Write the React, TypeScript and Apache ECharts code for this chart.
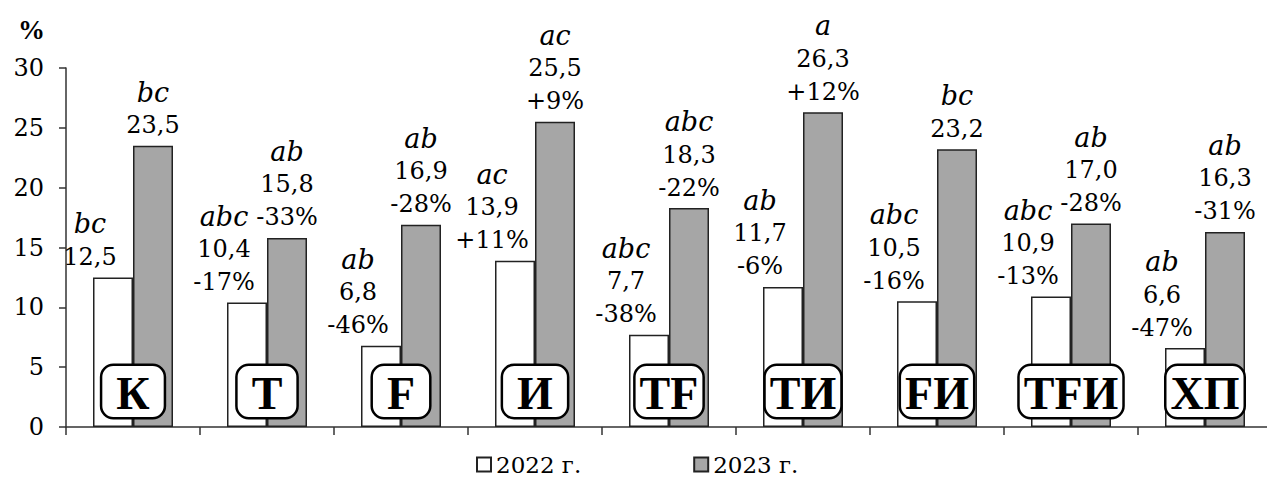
import React, { useEffect, useRef } from "react";
import * as echarts from "echarts";

const categories = ["К", "Т", "F", "И", "TF", "TИ", "FИ", "TFИ", "ХП"];
const values2022 = [12.5, 10.4, 6.8, 13.9, 7.7, 11.7, 10.5, 10.9, 6.6];
const values2023 = [23.5, 15.8, 16.9, 25.5, 18.3, 26.3, 23.2, 17.0, 16.3];
const letters2022 = ["bc", "abc", "ab", "ac", "abc", "ab", "abc", "abc", "ab"];
const letters2023 = ["bc", "ab", "ab", "ac", "abc", "a", "bc", "ab", "ab"];
const change2022 = ["", "-17%", "-46%", "+11%", "-38%", "-6%", "-16%", "-13%", "-47%"];
const change2023 = ["", "-33%", "-28%", "+9%", "-22%", "+12%", "", "-28%", "-31%"];
const yTicks = [0, 5, 10, 15, 20, 25, 30];

const SERIF = "DejaVu Serif";
const SERIF_BOLD = "Liberation Serif";

const fmt = (v: number) => v.toFixed(1).replace(".", ",");

function makeLabel(letters: string[], changes: string[]) {
  return (p: any) => {
    const i = p.dataIndex;
    let s = `{i|${letters[i]}}\n{v|${fmt(p.value)}}`;
    if (changes[i]) s += `\n{v|${changes[i]}}`;
    return s;
  };
}

const richStyle = {
  i: { fontFamily: SERIF, fontStyle: "italic", fontSize: 27, lineHeight: 33, color: "#000" },
  v: { fontFamily: SERIF, fontSize: 24, lineHeight: 33, color: "#000" },
};

export default function App() {
  const ref = useRef<HTMLDivElement>(null);
  useEffect(() => {
    if (!ref.current) return;
    const chart = echarts.init(ref.current, null, { renderer: "svg" });
    chart.setOption({
      animation: false,
      backgroundColor: "#fff",
      textStyle: { fontFamily: SERIF },
      grid: { left: 58, right: 3, top: 60, bottom: 54, containLabel: false },
      graphic: [
        {
          type: "text",
          left: 10,
          top: 8,
          style: { text: "%", fontFamily: SERIF_BOLD, fontWeight: "bold", fontSize: 27, fill: "#000" },
        },
      ],
      legend: {
        left: 463,
        top: 440,
        itemWidth: 14,
        itemHeight: 14,
        itemGap: 112,
        icon: "rect",
        textStyle: { fontFamily: SERIF, fontSize: 23, color: "#000" },
        data: ["2022 г.", "2023 г."],
      },
      xAxis: {
        type: "category",
        data: categories,
        axisLine: { lineStyle: { color: "#333", width: 1.5 } },
        axisTick: { show: true, length: 8, lineStyle: { color: "#333", width: 1.5 } },
        axisLabel: { show: false },
      },
      yAxis: {
        type: "value",
        min: 0,
        max: 30,
        interval: 5,
        splitLine: { show: false },
        axisLine: { show: true, lineStyle: { color: "#333", width: 1.5 } },
        axisTick: { show: true, length: 7, lineStyle: { color: "#333", width: 1.5 } },
        axisLabel: {
          margin: 22,
          fontFamily: SERIF,
          fontSize: 24,
          color: "#000",
          formatter: (v: number) => (yTicks.includes(v) ? String(v) : ""),
        },
      },
      series: [
        {
          name: "2022 г.",
          type: "bar",
          data: values2022,
          barWidth: 40,
          barGap: "0%",
          itemStyle: { color: "#ffffff", borderColor: "#222", borderWidth: 1.5 },
          label: {
            show: true,
            position: "top",
            distance: 4,
            offset: [-23, 0],
            formatter: makeLabel(letters2022, change2022),
            rich: richStyle,
          },
        },
        {
          name: "2023 г.",
          type: "bar",
          data: values2023,
          barWidth: 40,
          barGap: "0%",
          itemStyle: { color: "#a6a6a6", borderColor: "#222", borderWidth: 1.5 },
          label: {
            show: true,
            position: "top",
            distance: 4,
            formatter: makeLabel(letters2023, change2023),
            rich: richStyle,
          },
        },
        {
          name: "labels",
          type: "scatter",
          data: categories.map((c) => ({
            value: [c, 0],
            label: { padding: c.length === 1 ? [3, 14, 0, 14] : [3, 4, 0, 4] },
          })),
          symbolSize: 0,
          z: 10,
          silent: true,
          itemStyle: { opacity: 1 },
          label: {
            show: true,
            position: "top",
            distance: 10,
            formatter: (p: any) => categories[p.dataIndex],
            fontFamily: SERIF_BOLD,
            fontWeight: "bold",
            fontSize: 46,
            lineHeight: 48,
            color: "#000",
            opacity: 1,
            backgroundColor: "#ffffff",
            borderColor: "#000",
            borderWidth: 2.5,
            borderRadius: 11,
          },
        },
      ],
    });
    return () => chart.dispose();
  }, []);
  return <div ref={ref} style={{ width: 1267, height: 473 }} />;
}
